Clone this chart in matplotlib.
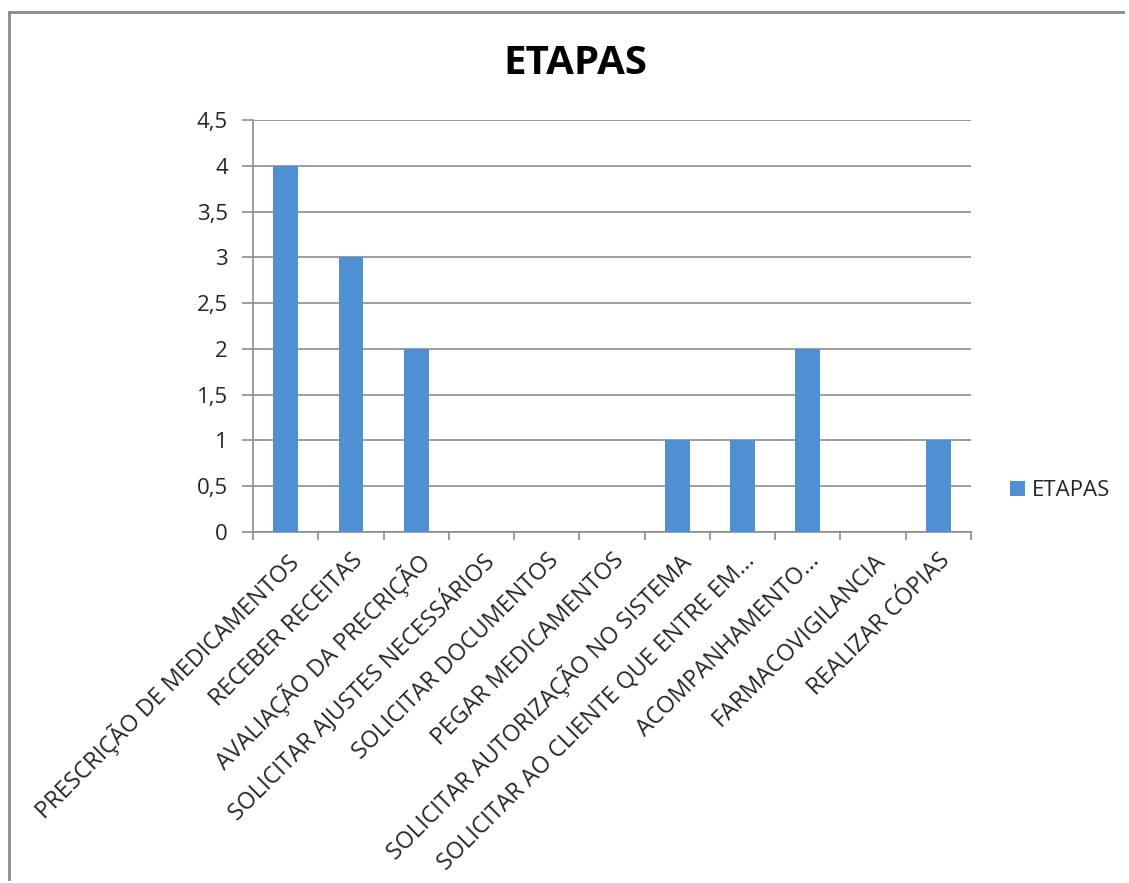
import numpy as np
import matplotlib.pyplot as plt
from matplotlib.lines import Line2D

# Dados do gráfico
etapas = [
    "PRESCRIÇÃO DE MEDICAMENTOS",
    "RECEBER RECEITAS",
    "AVALIAÇÃO DA PRECRIÇÃO",
    "SOLICITAR AJUSTES NECESSÁRIOS",
    "SOLICITAR DOCUMENTOS",
    "PEGAR MEDICAMENTOS",
    "SOLICITAR AUTORIZAÇÃO NO SISTEMA",
    "SOLICITAR AO CLIENTE QUE ENTRE EM...",
    "ACOMPANHAMENTO...",
    "FARMACOVIGILANCIA",
    "REALIZAR CÓPIAS",
]
valores = [4, 3, 2, 0, 0, 0, 1, 1, 2, 0, 1]
y_ticks = [0, 0.5, 1, 1.5, 2, 2.5, 3, 3.5, 4, 4.5]
y_labels = ["0", "0,5", "1", "1,5", "2", "2,5", "3", "3,5", "4", "4,5"]

plt.rcParams['font.family'] = ['Open Sans', 'DejaVu Sans']
azul = '#4f8fd3'
cinza = '#8c8c8c'
texto = '#262626'

fig = plt.figure(figsize=(11.29, 8.83), dpi=100)
ax = fig.add_axes([0.2241, 0.3975, 0.636, 0.4666])

x = np.arange(len(etapas))
ax.bar(x, valores, width=0.38, color=azul, zorder=3, label='ETAPAS')

ax.set_xlim(-0.5, len(etapas) - 0.5)
ax.set_ylim(0, 4.5)
ax.set_yticks(y_ticks)
ax.set_yticklabels(y_labels, fontsize=16, color=texto)
ax.yaxis.grid(True, color=cinza, lw=1.2, zorder=0)
ax.tick_params(axis='y', length=8, width=1.2, color=cinza, pad=10)

# Marcas do eixo x nas divisões entre categorias, rótulos no centro
ax.set_xticks(np.arange(len(etapas) + 1) - 0.5)
ax.set_xticklabels([])
ax.tick_params(axis='x', which='major', length=6, width=1.2, color=cinza)
ax.set_xticks(x, minor=True)
ax.set_xticklabels(etapas, minor=True, rotation=45, ha='right',
                   rotation_mode='anchor', fontsize=16.8, color=texto)
ax.tick_params(axis='x', which='minor', length=0, pad=12)

for s in ['top', 'right']:
    ax.spines[s].set_visible(False)
for s in ['left', 'bottom']:
    ax.spines[s].set_color(cinza)
    ax.spines[s].set_linewidth(1.2)

fig.text(0.510, 0.928, 'ETAPAS', ha='center', va='center',
         fontsize=29, fontweight='bold', color='black')

ax.legend(loc='center left', bbox_to_anchor=(0.877, 1 - 491 / 883),
          bbox_transform=fig.transFigure, frameon=False, fontsize=16,
          handlelength=0.65, handleheight=0.65, handletextpad=0.35,
          labelcolor=texto)

# Borda da área do gráfico
fig.add_artist(Line2D([0.008, 0.008], [0.005, 0.986], color='#8a8a8a',
                      lw=2, transform=fig.transFigure))
fig.add_artist(Line2D([0.008, 0.995], [0.986, 0.986], color='#8a8a8a',
                      lw=2, transform=fig.transFigure))

fig.savefig('out.png', dpi=100, facecolor='white')
